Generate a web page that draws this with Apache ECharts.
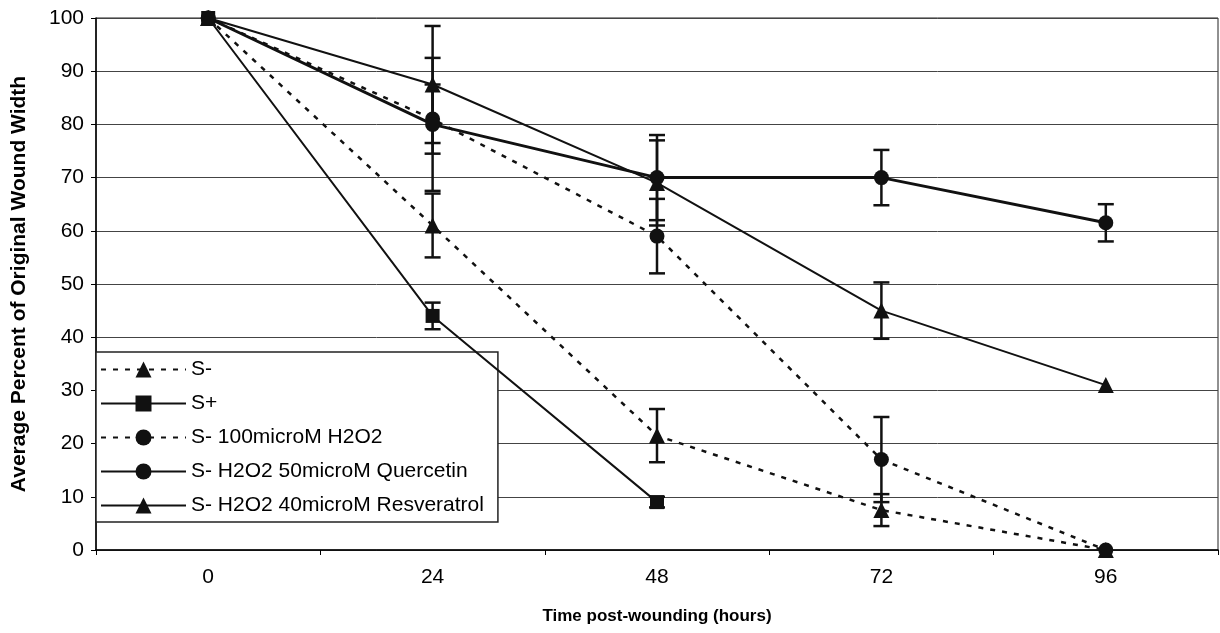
<!DOCTYPE html>
<html>
<head>
<meta charset="utf-8">
<script src="https://cdn.jsdelivr.net/npm/echarts@6/dist/echarts.min.js"></script>
<style>
  html, body { margin: 0; padding: 0; background: #fff; }
  #chart { width: 1220px; height: 633px; }
</style>
</head>
<body>
<div id="chart"></div>
<script>
const hours = ['0', '24', '48', '72', '96'];
const yTicks = [0, 10, 20, 30, 40, 50, 60, 70, 80, 90, 100];

// mean values
const sMinus = [100, 61, 21.5, 7.5, 0];
const sPlus = [100, 44, 9, null, null];
const h2o2 = [100, 81, 59, 17, 0];
const quercetin = [100, 80, 70, 70, 61.5];
const resveratrol = [100, 87.5, 69, 45, 31];

// error bar half widths
const errSMinus = [0, 6, 5, 3, 0];
const errSPlus = [0, 2.5, 1, null, null];
const errH2o2 = [0, 6.5, 7, 8, 0];
const errQuercetin = [0, 12.5, 8, 5.2, 3.5];
const errResveratrol = [0, 11, 8, 5.3, 0];

const ink = '#111';
const font = '"Liberation Sans", Arial, sans-serif';

function errData(vals, errs) {
  const out = [];
  vals.forEach((v, i) => {
    if (v == null || !errs[i]) return;
    out.push([i, v - errs[i], v + errs[i]]);
  });
  return out;
}

function errSeries(vals, errs) {
  return {
    type: 'custom',
    silent: true,
    z: 3,
    data: errData(vals, errs),
    renderItem: (params, api) => {
      const lo = api.coord([api.value(0), api.value(1)]);
      const hi = api.coord([api.value(0), api.value(2)]);
      const w = 8;
      const style = { stroke: ink, lineWidth: 2.5 };
      return {
        type: 'group',
        children: [
          { type: 'line', shape: { x1: lo[0], y1: lo[1], x2: hi[0], y2: hi[1] }, style },
          { type: 'line', shape: { x1: lo[0] - w, y1: lo[1], x2: lo[0] + w, y2: lo[1] }, style },
          { type: 'line', shape: { x1: hi[0] - w, y1: hi[1], x2: hi[0] + w, y2: hi[1] }, style },
        ],
      };
    },
  };
}

function lineSeries(name, data, symbol, size, lineType, width) {
  return {
    name: name,
    type: 'line',
    data: data,
    symbol: symbol,
    symbolSize: size,
    z: 4,
    itemStyle: { color: ink },
    lineStyle: { color: ink, width: width, type: lineType },
  };
}

const option = {
  backgroundColor: '#fff',
  animation: false,
  textStyle: { fontFamily: font, color: '#000' },
  grid: {
    left: 96,
    right: 2,
    top: 18,
    bottom: 83,
    show: true,
    borderColor: '#222',
    borderWidth: 1,
  },
  legend: {
    orient: 'vertical',
    left: 96,
    top: 352,
    padding: [7, 14, 6, 4],
    itemWidth: 85,
    itemHeight: 20,
    itemGap: 13,
    backgroundColor: '#fff',
    borderColor: '#222',
    borderWidth: 1.5,
    textStyle: { fontFamily: font, fontSize: 21, lineHeight: 19, color: '#000' },
    data: [
      'S-',
      'S+',
      'S- 100microM H2O2',
      'S- H2O2 50microM Quercetin',
      'S- H2O2 40microM Resveratrol',
    ],
  },
  xAxis: {
    type: 'category',
    data: hours,
    boundaryGap: true,
    name: 'Time post-wounding (hours)',
    nameLocation: 'middle',
    nameGap: 58,
    nameTextStyle: { fontFamily: font, fontSize: 17, fontWeight: 'bold', color: '#000' },
    axisLine: { lineStyle: { color: '#000', width: 1.5 } },
    axisTick: { show: true, length: 5, lineStyle: { color: '#000' } },
    axisLabel: { fontFamily: font, fontSize: 21, color: '#000', margin: 17 },
    splitLine: { show: false },
  },
  yAxis: {
    type: 'value',
    min: yTicks[0],
    max: yTicks[yTicks.length - 1],
    interval: 10,
    name: 'Average Percent of Original Wound Width',
    nameLocation: 'middle',
    nameGap: 66,
    nameTextStyle: { fontFamily: font, fontSize: 21, fontWeight: 'bold', color: '#000' },
    axisLine: { show: true, lineStyle: { color: '#000', width: 1.5 } },
    axisTick: { show: true, length: 5, lineStyle: { color: '#000' } },
    axisLabel: { fontFamily: font, fontSize: 21, color: '#000', margin: 12 },
    splitLine: { show: true, lineStyle: { color: '#444', width: 1 } },
  },
  series: [
    lineSeries('S-', sMinus, 'triangle', 16, [5, 7], 2.5),
    lineSeries('S+', sPlus, 'rect', 14, 'solid', 2),
    lineSeries('S- 100microM H2O2', h2o2, 'circle', 15, [5, 7], 2.5),
    lineSeries('S- H2O2 50microM Quercetin', quercetin, 'circle', 15, 'solid', 3),
    lineSeries('S- H2O2 40microM Resveratrol', resveratrol, 'triangle', 16, 'solid', 2),
    errSeries(sMinus, errSMinus),
    errSeries(sPlus, errSPlus),
    errSeries(h2o2, errH2o2),
    errSeries(quercetin, errQuercetin),
    errSeries(resveratrol, errResveratrol),
  ],
};

const chart = echarts.init(document.getElementById('chart'));
chart.setOption(option);
</script>
</body>
</html>
